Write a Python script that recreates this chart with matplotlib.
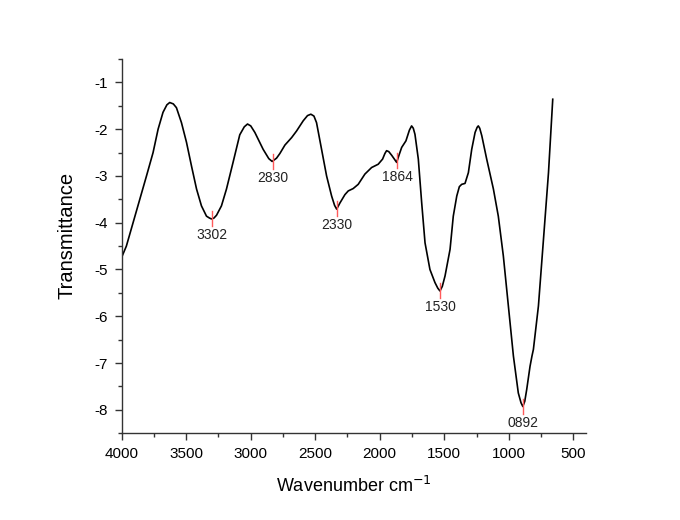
import numpy as np
import matplotlib
matplotlib.use("Agg")
import matplotlib.pyplot as plt
from matplotlib.ticker import MultipleLocator

plt.rcParams['font.family'] = ['Liberation Sans', 'DejaVu Sans']
plt.rcParams['axes.unicode_minus'] = False

wavenumber = [4002, 3964, 3912, 3860, 3808, 3757, 3718, 3680, 3650, 3628, 3600, 3576,
              3537, 3498, 3459, 3420, 3382, 3343, 3320, 3304, 3285, 3265, 3227, 3188, 3137, 3085,
              3050, 3025, 3000, 2968, 2904, 2860, 2834, 2800, 2774, 2735, 2683, 2645,
              2593, 2560, 2534, 2510, 2490, 2451, 2412, 2373, 2350, 2334, 2309, 2270,
              2244, 2206, 2167, 2115, 2063, 2012, 1978, 1960, 1947, 1930, 1907, 1869,
              1850, 1830, 1797, 1770, 1753, 1740, 1727, 1701, 1675, 1649, 1611, 1572,
              1550, 1533, 1515, 1494, 1455, 1430, 1403, 1383, 1365, 1339, 1313, 1287,
              1261, 1245, 1236, 1225, 1209, 1171, 1119, 1081, 1042, 1003, 964, 926,
              905, 891, 876, 861, 835, 820, 809, 770, 731, 692, 659]
transmittance = [-4.75, -4.50, -4.00, -3.50, -3.00, -2.50, -2.00, -1.64, -1.48, -1.43, -1.46, -1.54,
                 -1.86, -2.28, -2.79, -3.28, -3.64, -3.86, -3.90, -3.92, -3.90, -3.84, -3.64, -3.28, -2.71, -2.12,
                 -1.95, -1.89, -1.93, -2.07, -2.43, -2.63, -2.69, -2.62, -2.52, -2.34, -2.18, -2.04,
                 -1.82, -1.71, -1.68, -1.72, -1.86, -2.43, -3.00, -3.43, -3.63, -3.71, -3.58, -3.40,
                 -3.32, -3.27, -3.18, -2.96, -2.82, -2.75, -2.64, -2.52, -2.46, -2.48, -2.56, -2.71,
                 -2.55, -2.39, -2.25, -2.02, -1.93, -1.98, -2.11, -2.64, -3.57, -4.43, -5.00, -5.28,
                 -5.40, -5.46, -5.36, -5.14, -4.57, -3.86, -3.43, -3.23, -3.18, -3.16, -2.93, -2.43,
                 -2.07, -1.96, -1.93, -1.98, -2.14, -2.64, -3.28, -3.86, -4.71, -5.78, -6.85, -7.64,
                 -7.85, -7.93, -7.82, -7.57, -7.07, -6.85, -6.71, -5.78, -4.36, -2.93, -1.36]

peak_labels = ['3302', '2830', '2330', '1864', '1530', '0892']
peak_pos = [3302, 2830, 2330, 1864, 1530, 892]

fig = plt.figure(figsize=(6.8, 5.2), dpi=100)
ax = fig.add_axes([0.179, 0.167, 0.683, 0.7195])

ax.plot(wavenumber, transmittance, color='black', lw=1.2)

x_sorted = np.array(wavenumber[::-1])
y_sorted = np.array(transmittance[::-1])
for lab, pos in zip(peak_labels, peak_pos):
    yv = np.interp(pos, x_sorted, y_sorted)
    ax.plot([pos, pos], [yv + 0.16, yv - 0.16], color='#ff5a5a', lw=1.0)
    ax.annotate(lab, (pos, yv - 0.16), xytext=(0, -1.5), textcoords='offset points',
                ha='center', va='top', fontsize=10, color='#222222')

ax.set_xlim(4000, 400)
ax.set_ylim(-8.5, -0.5)
ax.xaxis.set_major_locator(MultipleLocator(500))
ax.xaxis.set_minor_locator(MultipleLocator(250))
ax.yaxis.set_major_locator(MultipleLocator(1))
ax.yaxis.set_minor_locator(MultipleLocator(0.5))

for s in ['top', 'right']:
    ax.spines[s].set_visible(False)
for s in ['left', 'bottom']:
    ax.spines[s].set_color('#333333')
    ax.spines[s].set_linewidth(1.0)

ax.tick_params(which='major', direction='out', length=5, width=1, labelsize=11,
               colors='#333333', labelcolor='black', pad=5)
ax.tick_params(which='minor', direction='out', length=3, width=1, colors='#333333')

ax.set_xlabel('Wavenumber cm$^{-1}$', fontsize=13, labelpad=11)
ax.set_ylabel('Transmittance', fontsize=14.5)
ax.yaxis.set_label_coords(-0.098, 0.528)

fig.savefig('out.png', dpi=100)
